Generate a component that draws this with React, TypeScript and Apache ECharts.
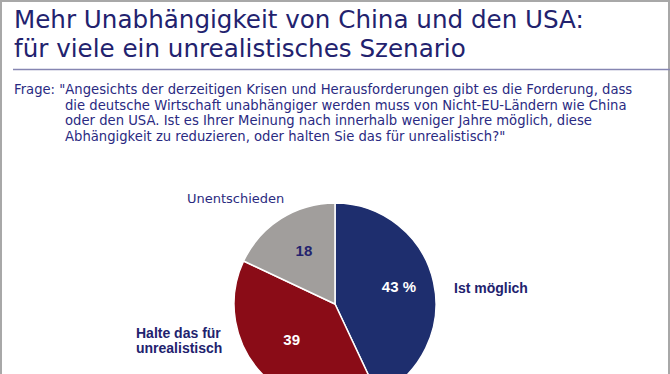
import React, { useEffect, useRef } from "react";
import * as echarts from "echarts";

const titleLines = [
  "Mehr Unabhängigkeit von China und den USA:",
  "für viele ein unrealistisches Szenario",
];
const questionLines = [
  'Frage: "Angesichts der derzeitigen Krisen und Herausforderungen gibt es die Forderung, dass',
  "die deutsche Wirtschaft unabhängiger werden muss von Nicht-EU-Ländern wie China",
  "oder den USA. Ist es Ihrer Meinung nach innerhalb weniger Jahre möglich, diese",
  'Abhängigkeit zu reduzieren, oder halten Sie das für unrealistisch?"',
];
const categories = ["Ist möglich", "Halte das für\nunrealistisch", "Unentschieden"];
const values = [43, 39, 18];
const valueSuffix = [" %", "", ""];

const sliceColors = ["#1e2e6e", "#8a0c17", "#a19e9c"];
const valueLabelColors = ["#ffffff", "#ffffff", "#23236e"];
const valueLabelOffsets = [[0, -3], [3, -11], [4, 2]];
const NAVY = "#22226e";

export default function App() {
  const ref = useRef<HTMLDivElement>(null);

  useEffect(() => {
    if (!ref.current) return;
    const chart = echarts.init(ref.current, undefined, { renderer: "svg" });

    const graphic: any[] = [
      {
        type: "rect",
        shape: { x: 1, y: 1, width: 668, height: 420 },
        style: { fill: "none", stroke: "#a8a8a8", lineWidth: 2 },
        silent: true,
      },
      {
        type: "line",
        shape: { x1: 13, y1: 69.5, x2: 670, y2: 69.5 },
        style: { stroke: "#8686b2", lineWidth: 1.5 },
        silent: true,
      },
      ...titleLines.map((t, i) => ({
        type: "text",
        x: 14,
        y: 19.5 + i * 28.8,
        style: {
          text: t,
          fill: NAVY,
          font: "24.6px 'DejaVu Sans'",
          verticalAlign: "middle",
          align: "left",
        },
        silent: true,
      })),
      ...questionLines.map((t, i) => ({
        type: "text",
        x: i === 0 ? 14 : 65,
        y: 89.5 + i * 15.6,
        style: {
          text: t,
          fill: "#2a2a82",
          font: "13.2px 'DejaVu Sans'",
          verticalAlign: "middle",
          align: "left",
        },
        silent: true,
      })),
      {
        type: "text",
        x: 187,
        y: 198,
        style: {
          text: categories[2],
          fill: "#2b2b80",
          font: "13px 'DejaVu Sans'",
          verticalAlign: "middle",
          align: "left",
        },
        silent: true,
      },
      {
        type: "text",
        x: 454,
        y: 288,
        style: {
          text: categories[0],
          fill: NAVY,
          font: "bold 14px 'Liberation Sans'",
          verticalAlign: "middle",
          align: "left",
        },
        silent: true,
      },
      {
        type: "text",
        x: 136,
        y: 340,
        style: {
          text: categories[1],
          fill: NAVY,
          font: "bold 14px 'Liberation Sans'",
          lineHeight: 15,
          verticalAlign: "middle",
          align: "left",
        },
        silent: true,
      },
    ];

    chart.setOption({
      animation: false,
      backgroundColor: "#ffffff",
      graphic,
      series: [
        {
          type: "pie",
          center: [335, 304],
          radius: 101,
          startAngle: 90,
          clockwise: true,
          silent: true,
          avoidLabelOverlap: false,
          itemStyle: { borderColor: "#ffffff", borderWidth: 1.5 },
          label: { show: false },
          labelLine: { show: false },
          data: values.map((v, i) => ({
            value: v,
            name: categories[i],
            itemStyle: { color: sliceColors[i] },
          })),
        },
        {
          type: "pie",
          center: [335, 304],
          radius: [24, 101],
          startAngle: 90,
          clockwise: true,
          silent: true,
          avoidLabelOverlap: false,
          itemStyle: { color: "rgba(0,0,0,0)", borderWidth: 0 },
          labelLine: { show: false },
          data: values.map((v, i) => ({
            value: v,
            name: categories[i],
            label: {
              show: true,
              position: "inside",
              formatter: `${v}${valueSuffix[i]}`,
              color: valueLabelColors[i],
              fontFamily: "Liberation Sans",
              fontWeight: "bold",
              fontSize: 15,
              offset: valueLabelOffsets[i],
            },
          })),
        },
      ],
    });

    return () => chart.dispose();
  }, []);

  return (
    <div
      ref={ref}
      style={{ position: "fixed", left: 0, top: 0, width: 670, height: 374 }}
    />
  );
}
